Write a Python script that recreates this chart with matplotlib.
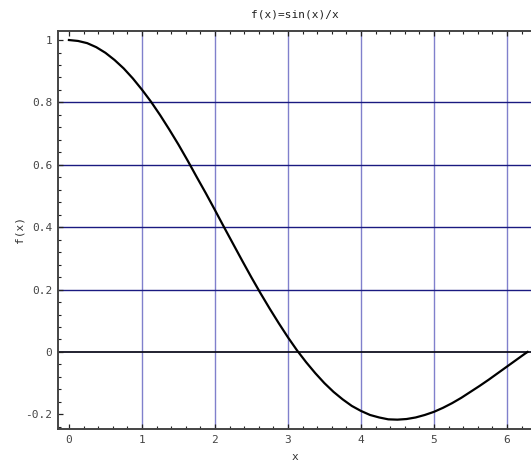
import numpy as np
import matplotlib
matplotlib.use("Agg")
import matplotlib.pyplot as plt
from matplotlib.ticker import MultipleLocator

plt.rcParams['font.family'] = 'DejaVu Sans Mono'

# values
x_vals = [0.0, 0.125, 0.25, 0.375, 0.5, 0.625, 0.75, 0.875, 1.0, 1.125,
          1.25, 1.375, 1.5, 1.625, 1.75, 1.875, 2.0, 2.125, 2.25, 2.375,
          2.5, 2.625, 2.75, 2.875, 3.0, 3.125, 3.25, 3.375, 3.5, 3.625,
          3.75, 3.875, 4.0, 4.125, 4.25, 4.375, 4.5, 4.625, 4.75, 4.875,
          5.0, 5.125, 5.25, 5.375, 5.5, 5.625, 5.75, 5.875, 6.0, 6.125,
          6.25, 6.283]
f_vals = [1.000, 0.997, 0.990, 0.977, 0.959, 0.936, 0.909, 0.877, 0.841,
          0.802, 0.759, 0.713, 0.665, 0.614, 0.561, 0.509, 0.455, 0.400,
          0.346, 0.292, 0.239, 0.188, 0.139, 0.092, 0.047, 0.005, -0.033,
          -0.068, -0.100, -0.128, -0.152, -0.173, -0.189, -0.202, -0.210,
          -0.216, -0.217, -0.215, -0.210, -0.202, -0.192, -0.179, -0.164,
          -0.147, -0.128, -0.109, -0.089, -0.068, -0.047, -0.026, -0.005,
          0.000]

x_grid = [1, 2, 3, 4, 5, 6]
y_grid = [0.2, 0.4, 0.6, 0.8]
x_ticks = [0, 1, 2, 3, 4, 5, 6]
y_ticks = [-0.2, 0, 0.2, 0.4, 0.6, 0.8, 1]
y_ticklabels = ['-0.2', '0', '0.2', '0.4', '0.6', '0.8', '1']

fig = plt.figure(figsize=(5.31, 4.61), dpi=100)
ax = fig.add_axes([0.1092, 0.0694, 0.8908, 0.8634])

for gx in x_grid:
    ax.axvline(gx, color='#8080cc', lw=1.0, zorder=1)
for gy in y_grid:
    ax.axhline(gy, color='#1a1a80', lw=1.0, zorder=1)
ax.axhline(0, color='#101020', lw=1.3, zorder=1)

ax.plot(x_vals, f_vals, color='black', lw=1.6, zorder=3)

ax.set_xlim(-0.15, 6.33)
ax.set_ylim(-0.247, 1.029)

ax.set_xticks(x_ticks)
ax.set_yticks(y_ticks)
ax.set_yticklabels(y_ticklabels)
ax.xaxis.set_minor_locator(MultipleLocator(0.2))
ax.yaxis.set_minor_locator(MultipleLocator(0.04))

ax.spines['right'].set_visible(False)
for s in ['left', 'bottom', 'top']:
    ax.spines[s].set_color('#444444')
    ax.spines[s].set_linewidth(1.4)

ax.tick_params(which='both', direction='in', top=True, right=False,
               labelsize=8, colors='#222222', labelcolor='#444444')
ax.tick_params(which='major', length=3.5, width=0.9, pad=4)
ax.tick_params(which='minor', length=2.2, width=0.8)

ax.set_title('f(x)=sin(x)/x', fontsize=8, pad=10, color='#222222')
ax.set_xlabel('x', fontsize=8, labelpad=5, color='#333333')
ax.set_ylabel('f(x)', fontsize=8, labelpad=1, color='#333333')

plt.savefig('out.png', dpi=100)
